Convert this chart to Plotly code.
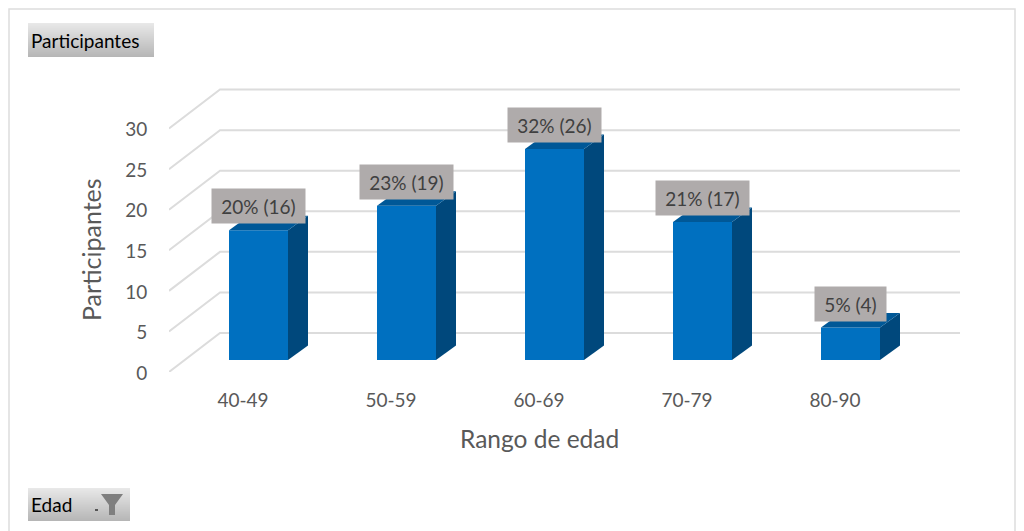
import plotly.graph_objects as go

age_ranges = ["40-49", "50-59", "60-69", "70-79", "80-90"]
participants = [16, 19, 26, 17, 4]
percentages = [20, 23, 32, 21, 5]
y_ticks = [0, 5, 10, 15, 20, 25, 30]

WIDTH, HEIGHT = 1024, 531
LEFT, RIGHT, TOP, BOTTOM = 169, 960, 88, 372
X_PER_CAT = 148.0
X_RANGE = [-0.5, -0.5 + (RIGHT - LEFT) / X_PER_CAT]
Y_RANGE = [0, 35]
Y_PX = (BOTTOM - TOP) / Y_RANGE[1]

GRID = "#DCDCDC"
FRONT, SIDE, CAP = "#0070C0", "#00487C", "#005897"
TEXT = "#595959"
FONT = "Lato"


def dx(px):
    return px / X_PER_CAT


def dy(px):
    return px / Y_PX


def paper_x(px):
    return (px - LEFT) / (RIGHT - LEFT)


def paper_y(px):
    return (BOTTOM - px) / (BOTTOM - TOP)


# Floor depth and bar placement inside the pseudo-3D box
FLOOR_X, FLOOR_Y = dx(51), dy(39)
BAR_SHIFT_X, BAR_LIFT = dx(15.5), dy(12)
BAR_W = dx(59)
BAR_DEPTH_X, BAR_DEPTH_Y = dx(20), dy(14.5)

shapes = []

# Slanted gridlines: floor edge up to the back wall, then across it
for v in y_ticks:
    shapes.append(dict(
        type="path", layer="below", xref="x", yref="y",
        path=(f"M {X_RANGE[0]} {v} L {X_RANGE[0] + FLOOR_X} {v + FLOOR_Y} "
              f"L {X_RANGE[1]} {v + FLOOR_Y}"),
        line=dict(color=GRID, width=2),
    ))

# Outer chart frame
shapes.append(dict(
    type="path", layer="below", xref="paper", yref="paper",
    path=(f"M {paper_x(9)} {paper_y(531)} L {paper_x(9)} {paper_y(9)} "
          f"L {paper_x(1015)} {paper_y(9)} L {paper_x(1015)} {paper_y(531)}"),
    line=dict(color="#DDDDDD", width=1.5),
))


def field_button(x0, x1, y0, y1):
    """Field button with a vertical light-to-dark gradient built from thin strips."""
    top_c, bottom_c = (232, 232, 232), (182, 182, 182)
    n = int(y1 - y0)
    for i in range(n):
        t = i / max(n - 1, 1)
        c = tuple(round(a + (b - a) * t) for a, b in zip(top_c, bottom_c))
        shapes.append(dict(
            type="rect", layer="below", xref="paper", yref="paper",
            x0=paper_x(x0), x1=paper_x(x1),
            y0=paper_y(y0 + i), y1=paper_y(y0 + i + 1),
            fillcolor=f"rgb{c}", line=dict(width=0),
        ))


field_button(28, 154, 23, 57)
field_button(28, 130, 488, 521)

# Funnel icon and drop-down mark on the "Edad" button
funnel = [(101, 494), (123, 494), (115, 505), (115, 515), (109, 515), (109, 505)]
shapes.append(dict(
    type="path", layer="above", xref="paper", yref="paper",
    path="M " + " L ".join(f"{paper_x(a)} {paper_y(b)}" for a, b in funnel) + " Z",
    fillcolor="#7F7F7F", line=dict(width=0),
))
shapes.append(dict(
    type="rect", layer="above", xref="paper", yref="paper",
    x0=paper_x(95), x1=paper_x(98), y0=paper_y(509), y1=paper_y(511),
    fillcolor="#555555", line=dict(width=0),
))

fig = go.Figure()

xs = list(range(len(age_ranges)))
centers = [i + BAR_SHIFT_X for i in xs]

# Front faces
fig.add_trace(go.Bar(
    x=centers, y=participants, base=[BAR_LIFT] * len(xs), width=BAR_W,
    marker=dict(color=FRONT, line=dict(width=0)), showlegend=False, hoverinfo="skip",
))

# Side and top faces of each bar
for c, v in zip(centers, participants):
    xl, xr = c - BAR_W / 2, c + BAR_W / 2
    y0, y1 = BAR_LIFT, BAR_LIFT + v
    fig.add_trace(go.Scatter(
        x=[xr, xr + BAR_DEPTH_X, xr + BAR_DEPTH_X, xr, xr],
        y=[y0, y0 + BAR_DEPTH_Y, y1 + BAR_DEPTH_Y, y1, y0],
        mode="lines", fill="toself", fillcolor=SIDE, line=dict(width=0),
        showlegend=False, hoverinfo="skip",
    ))
    fig.add_trace(go.Scatter(
        x=[xl, xl + BAR_DEPTH_X, xr + BAR_DEPTH_X, xr, xl],
        y=[y1, y1 + BAR_DEPTH_Y, y1 + BAR_DEPTH_Y, y1, y1],
        mode="lines", fill="toself", fillcolor=CAP, line=dict(width=0),
        showlegend=False, hoverinfo="skip",
    ))

annotations = []

# Value labels on grey boxes
for c, v, p in zip(centers, participants, percentages):
    annotations.append(dict(
        x=c, y=BAR_LIFT + v, xref="x", yref="y", yshift=24,
        xanchor="center", yanchor="middle",
        text=f"{p}% ({v})", showarrow=False, width=91 if v >= 10 else 69, height=32,
        bgcolor="#AFABAB", font=dict(family=FONT, size=19, color="#404040"),
    ))

# Axis titles and field button captions
annotations += [
    dict(x=paper_x(91), y=paper_y(250), xref="paper", yref="paper", text="Participantes",
         textangle=-90, xanchor="center", yanchor="middle", showarrow=False,
         font=dict(family=FONT, size=25, color=TEXT)),
    dict(x=paper_x(539), y=paper_y(438), xref="paper", yref="paper", text="Rango de edad",
         xanchor="center", yanchor="middle", showarrow=False,
         font=dict(family=FONT, size=24.5, color=TEXT)),
    dict(x=paper_x(29), y=paper_y(40), xref="paper", yref="paper", text="Participantes",
         xanchor="left", yanchor="middle", showarrow=False,
         font=dict(family=FONT, size=19, color="#000000")),
    dict(x=paper_x(29), y=paper_y(504), xref="paper", yref="paper", text="Edad",
         xanchor="left", yanchor="middle", showarrow=False,
         font=dict(family=FONT, size=19, color="#000000")),
]

fig.update_layout(
    width=WIDTH, height=HEIGHT, autosize=False,
    margin=dict(l=LEFT, r=WIDTH - RIGHT, t=TOP, b=HEIGHT - BOTTOM, pad=0),
    paper_bgcolor="white", plot_bgcolor="white",
    shapes=shapes, annotations=annotations, showlegend=False,
    xaxis=dict(
        range=X_RANGE, tickvals=xs, ticktext=age_ranges, showgrid=False, zeroline=False,
        showline=False, ticks="outside", ticklen=11, tickcolor="rgba(0,0,0,0)",
        tickfont=dict(family=FONT, size=19, color=TEXT),
    ),
    yaxis=dict(
        range=Y_RANGE, tickvals=y_ticks, showgrid=False, zeroline=False, showline=False,
        ticks="outside", ticklen=17, tickcolor="rgba(0,0,0,0)", ticklabelshift=1,
        tickfont=dict(family=FONT, size=19, color=TEXT),
    ),
)

fig.write_html("out.html", config=dict(displayModeBar=False))
